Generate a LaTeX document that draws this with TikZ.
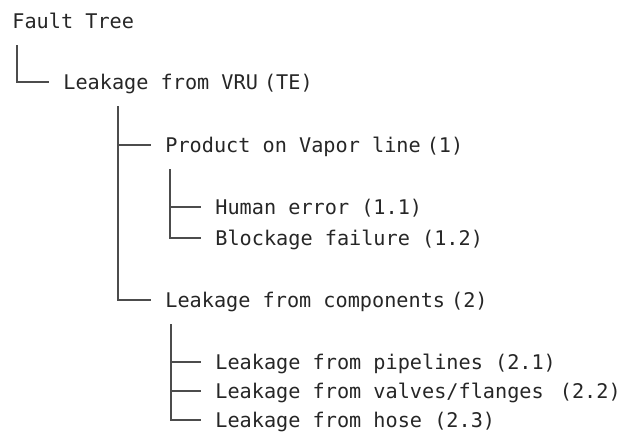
\documentclass[tikz,border=0pt]{standalone}
\usepackage{fontspec}
\setmonofont{DejaVu Sans Mono}
\usepackage{tikz}
\tikzstyle{item}=[anchor=west,inner sep=0pt,text height=0.9em,text depth=0.17em,
  font=\ttfamily\fontsize{10.1}{12}\selectfont,text=black!85]
\tikzstyle{branch}=[draw=black!70,line width=0.9pt]
\begin{document}
\begin{tikzpicture}[x=0.5pt,y=-0.5pt]
  \useasboundingbox (0,0) rectangle (626,440);
  \def\gap{7pt};
  \node[item] (tree) at (12, 21) {Fault Tree};
  \node[item] (top) at (63, 82) {Leakage from VRU\hspace{0.3em}(TE)};

  \node[item] (event 1) at (165, 145) {Product on Vapor line\hspace{0.3em}(1)};
  \node[item] (event 11) at (215, 207) {Human error (1.1)};
  \node[item] (event 12) at (215, 238) {Blockage failure (1.2)};

  \node[item] (event 2) at (165, 300) {Leakage from components\hspace{0.3em}(2)};
  \node[item] (event 21) at (215, 362) {Leakage from pipelines (2.1)};
  \node[item] (event 22) at (215, 391) {Leakage from valves/flanges\hspace{0.8em}(2.2)};
  \node[item] (event 23) at (215, 420) {Leakage from hose (2.3)};

  \coordinate (tree stem) at ([xshift=2.5pt, yshift=-6.5pt]tree.south west);
  \coordinate (top stem) at ([xshift=27.5pt, yshift=-6.5pt]top.south west);
  \coordinate (event 1 stem) at ([xshift=2.5pt, yshift=-6.5pt]event 1.south west);
  \coordinate (event 2 stem) at ([xshift=3pt, yshift=-6.5pt]event 2.south west);

  \draw[branch] (tree stem) |- ([xshift=-\gap]top.west);
  \draw[branch] (top stem) |- ([xshift=-\gap]event 2.west);
  \draw[branch] (top stem |- event 1.west) -- ([xshift=-\gap]event 1.west);

  \draw[branch] (event 1 stem) |- ([xshift=-\gap]event 12.west);
  \draw[branch] (event 1 stem |- event 11.west) -- ([xshift=-\gap]event 11.west);

  \draw[branch] (event 2 stem) |- ([xshift=-\gap]event 23.west);
  \foreach \x in {21,22} {
    \draw[branch] (event 2 stem |- event \x.west) -- ([xshift=-\gap]event \x.west);
  }
\end{tikzpicture}
\end{document}
